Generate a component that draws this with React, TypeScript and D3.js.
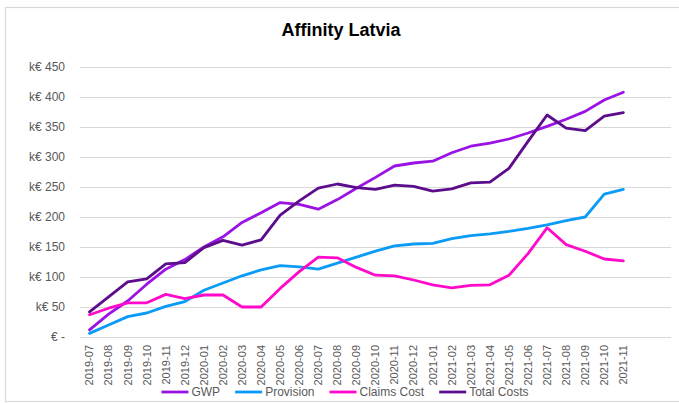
import React, { useEffect, useRef } from "react";
import * as d3 from "d3";

const months = [
  "2019-07", "2019-08", "2019-09", "2019-10", "2019-11", "2019-12",
  "2020-01", "2020-02", "2020-03", "2020-04", "2020-05", "2020-06",
  "2020-07", "2020-08", "2020-09", "2020-10", "2020-11", "2020-12",
  "2021-01", "2021-02", "2021-03", "2021-04", "2021-05", "2021-06",
  "2021-07", "2021-08", "2021-09", "2021-10", "2021-11",
];
// the axis keeps two empty slots after the last month
const emptySlots = 2;

const gwp = [12, 38, 60, 88, 113, 129, 150, 167, 191, 207, 224, 221, 213, 229, 248, 266, 285, 290, 293, 307, 318, 323, 330, 340, 351, 363, 376, 395, 408];
const provision = [6, 20, 34, 40, 51, 59, 78, 90, 102, 112, 119, 117, 113, 123, 133, 143, 152, 155, 156, 164, 169, 172, 176, 181, 187, 194, 200, 238, 246];
const claimsCost = [37, 48, 57, 57, 71, 64, 70, 70, 50, 50, 81, 109, 133, 132, 116, 103, 102, 95, 87, 82, 86, 87, 103, 139, 182, 154, 143, 130, 127];
const totalCosts = [42, 67, 92, 97, 122, 124, 149, 161, 153, 162, 203, 227, 248, 255, 249, 246, 253, 251, 243, 247, 257, 258, 281, 326, 370, 348, 344, 368, 374];

const seriesNames = ["GWP", "Provision", "Claims Cost", "Total Costs"];
const seriesColors = ["#9A12E4", "#0A9BF7", "#FF0ACB", "#5C0D8C"];
const yTicks = [0, 50, 100, 150, 200, 250, 300, 350, 400, 450];

export default function App() {
  const ref = useRef<SVGSVGElement>(null);

  useEffect(() => {
    const svg = d3.select(ref.current);
    svg.selectAll("*").remove();

    const W = 679;
    const H = 403;
    const font = "'Liberation Sans', Arial, sans-serif";
    const grey = "#595959";

    svg.append("rect")
      .attr("x", 0).attr("y", 0).attr("width", W).attr("height", H)
      .attr("fill", "#fff");

    // chart frame
    svg.append("rect")
      .attr("x", 5.5).attr("y", 7.5).attr("width", 700).attr("height", 394)
      .attr("fill", "none").attr("stroke", "#d9d9d9").attr("stroke-width", 1.2);

    svg.append("text")
      .attr("x", 341).attr("y", 36)
      .attr("text-anchor", "middle")
      .attr("font-family", font).attr("font-size", 18).attr("font-weight", "bold")
      .attr("fill", "#000")
      .text("Affinity Latvia");

    const x = d3.scaleBand<number>()
      .domain(d3.range(months.length + emptySlots))
      .range([80, 671])
      .padding(0);
    const cx = (i: number) => (x(i) as number) + x.bandwidth() / 2;

    const y = d3.scaleLinear().domain([0, 450]).range([337, 67]);

    // gridlines
    svg.append("g").selectAll("line").data(yTicks).enter().append("line")
      .attr("x1", 80).attr("x2", 671)
      .attr("y1", (d) => Math.round(y(d)) + 0.5).attr("y2", (d) => Math.round(y(d)) + 0.5)
      .attr("stroke", "#d9d9d9").attr("stroke-width", 1);

    // y labels
    svg.append("g").selectAll("text").data(yTicks).enter().append("text")
      .attr("x", 65).attr("y", (d) => y(d))
      .attr("dy", "0.35em")
      .attr("text-anchor", "end")
      .attr("font-family", font).attr("font-size", 12).attr("fill", grey)
      .text((d) => (d === 0 ? "€ -" : `k€ ${d}`));

    // x labels
    svg.append("g").selectAll("text").data(months).enter().append("text")
      .attr("transform", (d, i) => `translate(${cx(i)},345) rotate(-90)`)
      .attr("dy", "0.35em")
      .attr("text-anchor", "end")
      .attr("font-family", font).attr("font-size", 11).attr("fill", grey)
      .text((d) => d);

    const allSeries = [gwp, provision, claimsCost, totalCosts];
    const line = d3.line<number>()
      .x((d, i) => cx(i))
      .y((d) => y(d));

    allSeries.forEach((s, k) => {
      svg.append("path")
        .datum(s)
        .attr("d", line)
        .attr("fill", "none")
        .attr("stroke", seriesColors[k])
        .attr("stroke-width", 2.8)
        .attr("stroke-linejoin", "round")
        .attr("stroke-linecap", "round");
    });

    // legend
    const legend = svg.append("g");
    const items = seriesNames.map((name, k) => {
      const g = legend.append("g");
      g.append("line")
        .attr("x1", 0).attr("x2", 27).attr("y1", 392).attr("y2", 392)
        .attr("stroke", seriesColors[k]).attr("stroke-width", 2.8);
      const t = g.append("text")
        .attr("x", 30).attr("y", 392).attr("dy", "0.35em")
        .attr("font-family", font).attr("font-size", 12).attr("fill", grey)
        .text(name);
      const w = (t.node() as SVGTextElement).getComputedTextLength();
      return { g, w: 30 + w };
    });
    const gap = 15;
    const total = d3.sum(items, (d) => d.w) + gap * (items.length - 1);
    let pos = 345 - total / 2;
    items.forEach((it) => {
      it.g.attr("transform", `translate(${pos},0)`);
      pos += it.w + gap;
    });
  }, []);

  return (
    <svg
      ref={ref}
      width={679}
      height={403}
      style={{ position: "absolute", left: 0, top: 0, display: "block" }}
    ></svg>
  );
}
